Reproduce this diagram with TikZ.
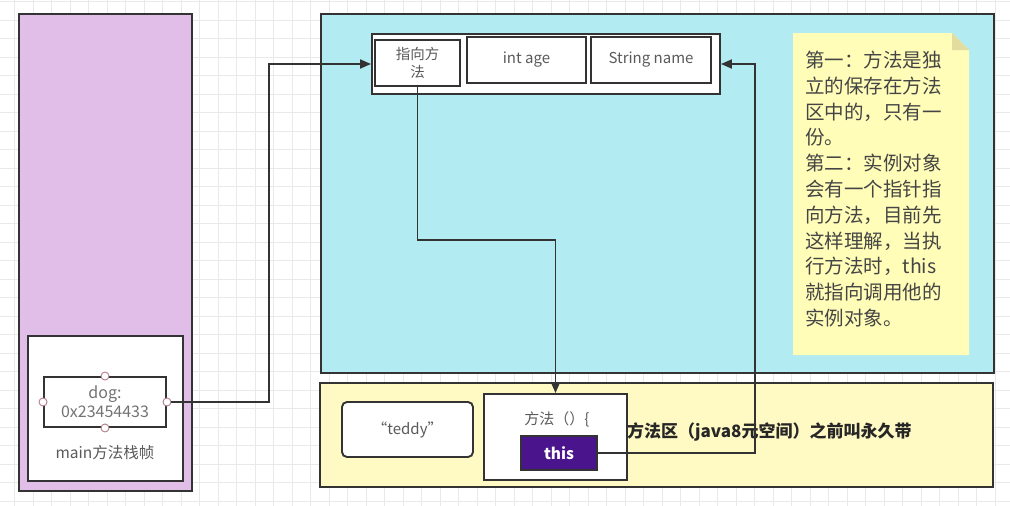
\documentclass[tikz,border=0pt]{standalone}
\usepackage{fontspec}
\setmainfont{Noto Sans CJK SC}
\usetikzlibrary{arrows.meta,calc}

\definecolor{edgec}{HTML}{333333}
\definecolor{stackfill}{HTML}{E1BEE7}
\definecolor{heapfill}{HTML}{B2EBF2}
\definecolor{areafill}{HTML}{FFF9C4}
\definecolor{notefill}{HTML}{FFFDB8}
\definecolor{foldfill}{HTML}{E2DC9E}
\definecolor{thisfill}{HTML}{4A148C}
\definecolor{gridc}{HTML}{E9E9E9}
\definecolor{txtc}{HTML}{5A5A5A}
\definecolor{notetxt}{HTML}{454545}
\definecolor{portc}{HTML}{B07C88}

\tikzset{
  box/.style={draw=edgec, line width=1.9pt, inner sep=0pt, align=center,
    text=txtc, font=\fontsize{15}{18}\selectfont},
  conn/.style={draw=edgec, line width=1.9pt},
  tip/.style={-{Triangle[length=11pt,width=9pt]}},
  port/.style={circle, draw=portc, fill=white, line width=0.9pt,
    minimum size=8pt, inner sep=0pt},
}

\begin{document}
\begin{tikzpicture}[x=1pt,y=-1pt]
\useasboundingbox (0,0) rectangle (1010,506);
\fill[white] (0,0) rectangle (1010,506);

% background grid
\foreach \i in {0,...,54}
  \draw[gridc, line width=0.8pt] ({14.8+18.5*\i},0) -- ++(0,506);
\foreach \j in {0,...,27}
  \draw[gridc, line width=0.8pt] (0,{1.5+18.5*\j}) -- ++(1010,0);

% stack area
\node[box, fill=stackfill, minimum width=173pt, minimum height=477pt] (stack) at (105.5,252.5) {};
\node[box, fill=white, minimum width=155pt, minimum height=145pt] (frame) at (105.5,408.5) {};
\node[box, fill=white, minimum width=122pt, minimum height=50pt,
  font=\fontsize{16}{19}\selectfont, text=txtc!85] (dog) at (105,402) {dog:\\0x23454433};
\node[text=txtc, font=\fontsize{15.5}{18}\selectfont] (mainlbl) at (105,453) {main方法栈帧};
\node[port] (pn) at (dog.north) {};
\node[port] (ps) at (dog.south) {};
\node[port] (pw) at (dog.west) {};
\node[port] (pe) at (dog.east) {};

% heap area
\node[box, fill=heapfill, minimum width=673pt, minimum height=359pt] (heap) at (657.5,193.5) {};
\node[box, fill=white, minimum width=348pt, minimum height=60pt] (obj) at (546,64) {};
\node[box, fill=white, minimum width=85pt, minimum height=46pt,
  font=\fontsize{14.5}{18}\selectfont] (ptr) at (417.5,63) {指向方\\法};
\node[box, fill=white, minimum width=119pt, minimum height=46pt] (age) at (526.5,60) {int age};
\node[box, fill=white, minimum width=120pt, minimum height=46pt] (name) at (651,60) {String name};

% sticky note
\fill[notefill] (793,33) -- (952,33) -- (969,50) -- (969,355) -- (793,355) -- cycle;
\fill[foldfill] (952,33) -- (969,50) -- (952,50) -- cycle;
\node[anchor=west, align=left, inner sep=0pt, text=notetxt,
  font=\fontsize{19.5}{25.8}\selectfont] (note) at (805,189)
  {第一：方法是独\\立的保存在方法\\区中的，只有一\\份。\\第二：实例对象\\会有一个指针指\\向方法，目前先\\这样理解，当执\\行方法时，this\\就指向调用他的\\实例对象。};

% method area
\node[box, fill=areafill, minimum width=673pt, minimum height=104pt] (area) at (656.5,435) {};
\node[box, fill=white, rounded corners=5pt, minimum width=131pt, minimum height=55pt] (teddy) at (407.5,429.5) {“teddy”};
\node[box, fill=white, minimum width=143pt, minimum height=86pt] (meth) at (555.5,437) {};
\node[text=txtc, font=\fontsize{15}{18}\selectfont] (methlbl) at (557,419) {方法（）\{};
\node[box, fill=thisfill, minimum width=76pt, minimum height=34pt, text=white,
  font=\fontsize{15.5}{18}\selectfont\bfseries] (this) at (559,453) {this};
\node[anchor=west, inner sep=0pt, text=black!85, font=\fontsize{17}{20}\selectfont\bfseries] (arealbl) at (627,432)
  {方法区（java8元空间）之前叫永久带};

% connectors
\coordinate (j1) at (269,0);
\coordinate (j2) at (0,240);
\coordinate (j3) at (755,0);
\draw[conn, tip] (pe.east) -- (pe.east -| j1) |- (obj.west);
\draw[conn, tip] (ptr.south) -- (ptr.south |- j2) -| (meth.north);
\draw[conn, tip] (this.east) -- (this.east -| j3) |- (obj.east);
\end{tikzpicture}
\end{document}
